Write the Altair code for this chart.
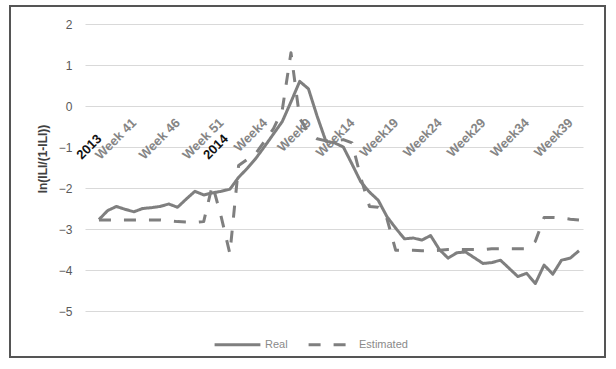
import altair as alt
import pandas as pd

# Categories: 2013 week 37 .. 2014 week 40 (one point per week)
weeks_2013 = list(range(37, 53))
weeks_2014 = list(range(1, 41))
categories = [f"2013-W{w}" for w in weeks_2013] + [f"2014-W{w}" for w in weeks_2014]

real = [-2.77, -2.55, -2.45, -2.52, -2.58, -2.50, -2.48, -2.45, -2.39, -2.47,
        -2.27, -2.08, -2.17, -2.12, -2.08, -2.03, -1.74, -1.52, -1.27, -0.98,
        -0.68, -0.38, 0.10, 0.60, 0.42, -0.25, -0.86, -0.90, -1.00, -1.42,
        -1.85, -2.10, -2.30, -2.70, -2.98, -3.24, -3.22, -3.27, -3.16, -3.50,
        -3.71, -3.58, -3.56, -3.70, -3.84, -3.82, -3.76, -3.96, -4.16, -4.08,
        -4.33, -3.88, -4.10, -3.76, -3.71, -3.53]

estimated = [-2.78, -2.78, -2.78, -2.78, -2.78, -2.78, -2.78, -2.78, -2.80, -2.82,
             -2.83, -2.84, -2.82, -1.92, -2.70, -3.60, -1.45, -1.30, -1.15, -0.85,
             -0.55, -0.10, 1.30, -0.30, -0.65, -0.80, -0.85, -0.85, -0.82, -0.90,
             -1.75, -2.45, -2.47, -2.75, -3.52, -3.52, -3.52, -3.53, -3.53, -3.52,
             -3.50, -3.50, -3.50, -3.50, -3.50, -3.48, -3.48, -3.48, -3.48, -3.48,
             -3.30, -2.72, -2.72, -2.73, -2.76, -2.78]

week_tick_pos = [4, 9, 14, 19, 24, 29, 34, 39, 44, 49, 54]
week_tick_text = ["Week 41", "Week 46", "Week 51", "Week4", "Week9", "Week14",
                  "Week19", "Week24", "Week29", "Week34", "Week39"]
year_tick_pos = [0, 14.5]
year_tick_text = ["2013", "2014"]
y_ticks = [-5, -4, -3, -2, -1, 0, 1, 2]
series_names = ["Real", "Estimated"]

rows = []
for i, c in enumerate(categories):
    rows.append({"idx": i, "week": c, "series": "Real", "value": real[i]})
    rows.append({"idx": i, "week": c, "series": "Estimated", "value": estimated[i]})
df = pd.DataFrame(rows)

tick_pos = year_tick_pos + week_tick_pos
tick_text = year_tick_text + week_tick_text
expr = "''"
for p, t in zip(tick_pos, tick_text):
    expr = f"datum.value == {p} ? '{t}' : ({expr})"
year_test = " || ".join(f"datum.value == {p}" for p in year_tick_pos)

FONT = "Liberation Sans"
GRAY = "#7f7f7f"

x_axis = alt.Axis(
    values=sorted(tick_pos), labelExpr=expr, orient="bottom", offset=-205.7,
    domain=False, ticks=False, tickSize=0, grid=False,
    labelAngle=-45, labelAlign="right", labelBaseline="middle",
    labelFont=FONT, labelFontSize=13, labelFontWeight="bold",
    labelColor={"condition": {"test": year_test, "value": "#111111"}, "value": "#858585"},
    labelPadding={"condition": {"test": year_test, "value": 31}, "value": 15},
    labelOverlap=False, labelBound=False, labelFlush=False, title=None,
)

y_axis = alt.Axis(
    values=y_ticks, grid=True, gridColor="#d9d9d9", gridWidth=1,
    domain=False, ticks=False, tickSize=0, labelPadding=13,
    labelColor="#595959", labelFontSize=12, labelFont=FONT,
    title="ln(ILI/(1-ILI))", titleFont=FONT, titleFontSize=12, titleFontWeight="bold",
    titleColor="#404040", titleX=-43, titleY=134.5, titleAngle=270,
    titleAlign="center", titleBaseline="middle",
)

lines = alt.Chart(df).mark_line(color=GRAY, strokeWidth=3, strokeJoin="round").encode(
    x=alt.X("idx:Q", scale=alt.Scale(domain=[-1.6, 55.46], nice=False, zero=False), axis=x_axis),
    y=alt.Y("value:Q", scale=alt.Scale(domain=[-5, 2], nice=False, zero=False), axis=y_axis),
    strokeDash=alt.StrokeDash(
        "series:N",
        scale=alt.Scale(domain=series_names, range=[[1, 0], [12, 13]]),
        legend=alt.Legend(
            orient="none", legendX=128, legendY=296, direction="horizontal", title=None,
            symbolType="stroke", symbolSize=2100, symbolStrokeWidth=3,
            symbolStrokeColor=GRAY, labelFontSize=11, labelColor="#8a8a8a",
            labelFont=FONT, labelOffset=3, columnPadding=14,
        ),
    ),
    order="idx:Q",
)

frame = alt.Chart(pd.DataFrame({"a": [0]})).mark_rect(
    fill=None, stroke="#555555", strokeWidth=2
).encode(
    x=alt.value(-75), x2=alt.value(520), y=alt.value(-18), y2=alt.value(333)
)

chart = alt.layer(lines, frame).properties(
    width=498, height=287,
    autosize=alt.AutoSizeParams(type="none"),
    padding={"left": 85, "top": 24, "right": 33, "bottom": 58},
    background="white",
).configure_view(stroke=None)

chart.save("out.html", embed_options={"renderer": "svg", "actions": False})
